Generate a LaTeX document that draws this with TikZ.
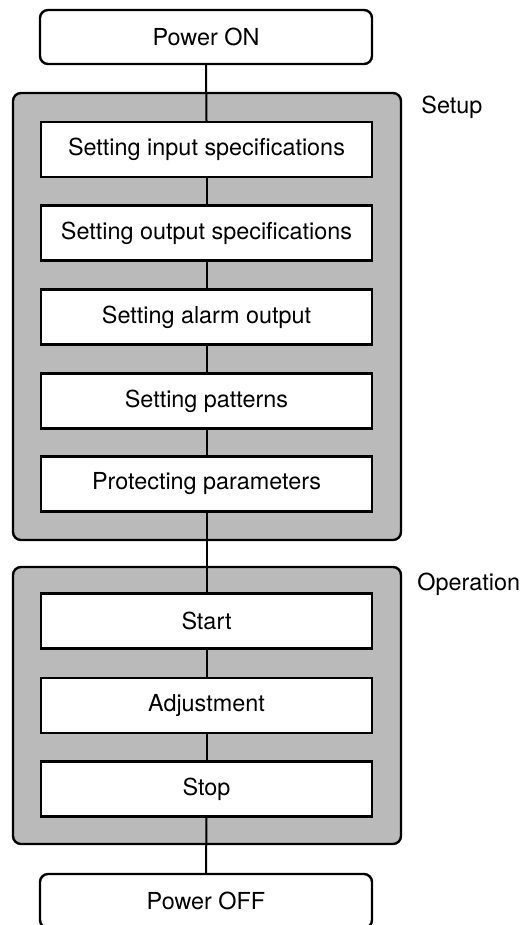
\documentclass[tikz,border=0pt]{standalone}
\usepackage{fontspec}
\setmainfont{TeX Gyre Heros}
\usepackage{xcolor}
\definecolor{Shade}{RGB}{186,186,186}
\definecolor{Black}{RGB}{0,0,0}
\definecolor{White}{RGB}{255,255,255}
\usetikzlibrary{positioning}

\begin{document}
\begin{tikzpicture}[x=0.5pt, y=-0.5pt,
		every node/.style={font=\fontsize{11.7}{14}\selectfont},
		group/.style={draw=Black, fill=Shade, line width=1.2pt, rounded corners=4pt, minimum width=194pt, inner sep=0pt},
		stepbox/.style={draw=Black, fill=White, line width=1.2pt, minimum width=165.5pt, minimum height=27.5pt, inner sep=0pt},
		powerbox/.style={draw=Black, fill=White, line width=1.2pt, rounded corners=4pt, minimum width=166pt, minimum height=27pt, inner sep=0pt},
		grouplbl/.style={anchor=base west, inner sep=0pt},
		link/.style={draw=Black, line width=1pt}]

		\useasboundingbox (0,0) rectangle (527,925);

		% Groups
		\node[group, minimum height=223.5pt] (setup) at (207,316.5) {};
		\node[group, minimum height=138.5pt] (operation) at (207,705.5) {};
		\node[grouplbl] (setuplbl) at (421,114) {Setup};
		\node[grouplbl] (operationlbl) at (417,590) {Operation};

		% Power
		\node[powerbox] (on) at (206,37) {Power ON};
		\node[powerbox] (off) at (206,901) {Power OFF};

		% Setup steps
		\node[stepbox] (input) at (206.5,149.5) {Setting input specifications};
		\node[stepbox] (output) at (206.5,233) {Setting output specifications};
		\node[stepbox] (alarm) at (206.5,317) {Setting alarm output};
		\node[stepbox] (pattern) at (206.5,401) {Setting patterns};
		\node[stepbox] (protect) at (206.5,484) {Protecting parameters};

		% Operation steps
		\node[stepbox] (start) at (206.5,621) {Start};
		\node[stepbox] (adjust) at (206.5,705.5) {Adjustment};
		\node[stepbox] (stop) at (206.5,789) {Stop};

		% Links
		\draw[link] (on.south) -- (input.north);
		\draw[link] (input.south) -- (output.north);
		\draw[link] (output.south) -- (alarm.north);
		\draw[link] (alarm.south) -- (pattern.north);
		\draw[link] (pattern.south) -- (protect.north);
		\draw[link] (protect.south) -- (start.north);
		\draw[link] (start.south) -- (adjust.north);
		\draw[link] (adjust.south) -- (stop.north);
		\draw[link] (stop.south) -- (off.north);

	\end{tikzpicture}
\end{document}
